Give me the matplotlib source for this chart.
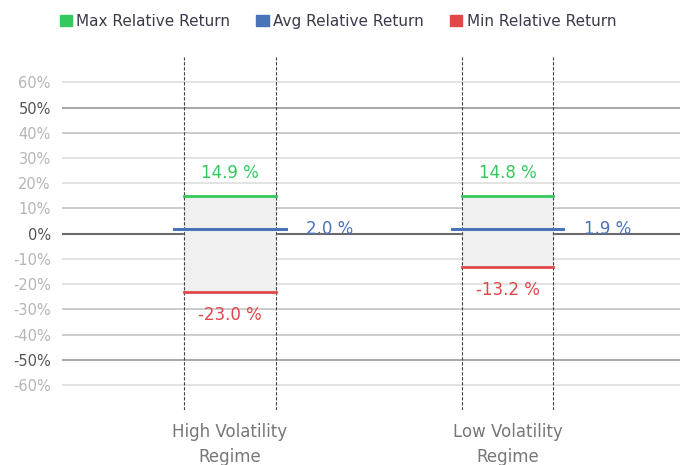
import matplotlib
matplotlib.use("Agg")
import matplotlib.pyplot as plt
from matplotlib.patches import Patch

categories = ["High Volatility\nRegime", "Low Volatility\nRegime"]
max_vals = [14.9, 14.8]
avg_vals = [2.0, 1.9]
min_vals = [-23.0, -13.2]
yticks = [60, 50, 40, 30, 20, 10, 0, -10, -20, -30, -40, -50, -60]

GREEN = "#33c95f"
BLUE = "#4a72b8"
RED = "#e04848"

fig = plt.figure(figsize=(6.8, 4.65), dpi=100)
ax = fig.add_axes([0.091, 0.118, 0.909, 0.759])
ax.set_xlim(-0.605, 1.62)
ax.set_ylim(-70, 70)

grid_colors = {0: "#6a6a6a", 50: "#9a9a9a", -50: "#9a9a9a",
               40: "#c4c4c4", 10: "#c4c4c4", -30: "#c4c4c4", -40: "#c4c4c4"}
for t in yticks:
    c = grid_colors.get(t, "#dedede")
    lw = 1.5 if t == 0 else 1.2
    ax.axhline(t, color=c, lw=lw, zorder=0)

hw = 0.164
aw = 0.2
for i, (mx, av, mn) in enumerate(zip(max_vals, avg_vals, min_vals)):
    ax.fill_between([i - hw, i + hw], mn, mx, color="#f0f0f0", zorder=1)
    ax.plot([i - hw, i + hw], [mx, mx], color=GREEN, lw=2, zorder=3)
    ax.plot([i - hw, i + hw], [mn, mn], color=RED, lw=2, zorder=3)
    ax.plot([i - aw, i + aw], [av, av], color=BLUE, lw=2.2, zorder=4)
    for x in (i - hw, i + hw):
        ax.axvline(x, color="#444444", lw=0.8, ls=(0, (3, 1.5)), zorder=2)
    ax.text(i, mx + 5.5, f"{mx:.1f} %", color=GREEN, ha="center", va="bottom", fontsize=12)
    ax.text(i, mn - 5.5, f"{mn:.1f} %", color=RED, ha="center", va="top", fontsize=12)
    ax.text(i + 0.275, av, f"{av:.1f} %", color=BLUE, ha="left", va="center", fontsize=12)

ax.set_yticks(yticks)
ax.set_yticklabels([f"{t}%" for t in yticks], fontsize=10.5)
for lbl, t in zip(ax.get_yticklabels(), yticks):
    lbl.set_color("#555555" if t in (0, 50, -50) else "#b5b5b5")
ax.tick_params(axis="y", length=0, pad=8)
ax.set_xticks(range(len(categories)))
ax.set_xticklabels(categories, fontsize=12, color="#777777", linespacing=1.5)
ax.tick_params(axis="x", length=0, pad=9)
for s in ax.spines.values():
    s.set_visible(False)

handles = [Patch(color=GREEN, label="Max Relative Return"),
           Patch(color=BLUE, label="Avg Relative Return"),
           Patch(color=RED, label="Min Relative Return")]
fig.legend(handles=handles, loc="upper center", bbox_to_anchor=(0.497, 1.0), ncol=3,
           frameon=False, fontsize=11, handlelength=0.8, handleheight=0.8,
           handletextpad=0.3, columnspacing=1.7, labelcolor="#3a3a4a")

fig.savefig("out.png", dpi=100)
